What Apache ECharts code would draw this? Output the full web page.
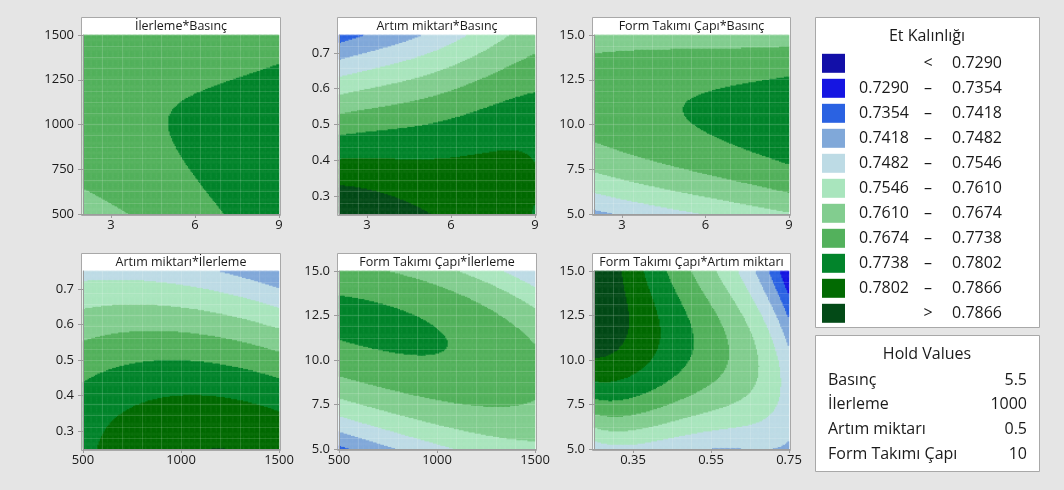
<!DOCTYPE html>
<html>
<head>
<meta charset="utf-8">
<script src="https://cdn.jsdelivr.net/npm/echarts@6/dist/echarts.min.js"></script>
<style>
  html, body { margin: 0; padding: 0; background: #e5e5e5; }
  #chart { width: 1064px; height: 490px; }
</style>
</head>
<body>
<div id="chart"></div>
<script>
// Factors of the Et Kalınlığı (wall thickness) response surface
const factorNames = ['Basınç', 'İlerleme', 'Artım miktarı', 'Form Takımı Çapı'];
const factorLow = [2, 500, 0.25, 5];
const factorHigh = [9, 1500, 0.75, 15];
const holdValues = ['5.5', '1000', '0.5', '10'];

// Contour levels and their fill colours
const levelBreaks = [0.7290, 0.7354, 0.7418, 0.7482, 0.7546, 0.7610, 0.7674, 0.7738, 0.7802, 0.7866];
const levelColors = ['#120fa8', '#1515e2', '#2a62e2', '#80a8d9', '#bddbe5', '#a9e5bd',
                     '#82cd8f', '#53b15c', '#02842b', '#026a02', '#034a17'];

// Axis tick values per factor (left axis / bottom axis)
const factorTicks = [
  [3, 6, 9],
  [500, 750, 1000, 1250, 1500],
  [0.3, 0.4, 0.5, 0.6, 0.7],
  [5, 7.5, 10, 12.5, 15]
];
const factorBottomTicks = [[3, 6, 9], [500, 1000, 1500], [0.35, 0.55, 0.75], [5, 10, 15]];

// Et Kalınlığı readings for each factor pair: [x, y, thickness]
const surfaceBasincIlerleme = [
  [5.1, 1000, 0.7738], [5.5, 1105, 0.7738], [6.0, 1160, 0.7738], [7.35, 1270, 0.7738], [9, 1330, 0.7738],
  [5.3, 885, 0.7738], [5.75, 740, 0.7738], [6.35, 630, 0.7738], [7.0, 520, 0.7738],
  [2, 660, 0.7674], [3.35, 520, 0.7674],
  [2, 1000, 0.7723], [9, 1000, 0.7786], [2, 1500, 0.7715], [9, 1500, 0.7702], [9, 500, 0.7786],
  [2, 500, 0.7647], [5.5, 1500, 0.7695], [5.5, 500, 0.7703], [7.25, 1000, 0.7760], [3.75, 1000, 0.7729],
  [7.25, 1500, 0.7695], [3.75, 1500, 0.7701], [3.75, 500, 0.7677], [7.25, 500, 0.7741]
];
const surfaceBasincArtim = [
  [2, 0.725, 0.7418], [2.8, 0.75, 0.7418],
  [2, 0.678, 0.7482], [3.1, 0.703, 0.7482], [4.3, 0.731, 0.7482], [5.1, 0.75, 0.7482],
  [2, 0.638, 0.7546], [3.7, 0.661, 0.7546], [5.5, 0.699, 0.7546], [6.45, 0.75, 0.7546],
  [2, 0.582, 0.7610], [3.7, 0.615, 0.7610], [5.5, 0.643, 0.7610], [7.25, 0.705, 0.7610], [8.0, 0.75, 0.7610],
  [2, 0.526, 0.7674], [3.7, 0.554, 0.7674], [5.5, 0.591, 0.7674], [7.25, 0.637, 0.7674], [9, 0.689, 0.7674],
  [2, 0.470, 0.7738], [3.7, 0.484, 0.7738], [5.5, 0.512, 0.7738], [7.25, 0.554, 0.7738], [9, 0.594, 0.7738],
  [2, 0.395, 0.7802], [5.5, 0.404, 0.7802], [9, 0.386, 0.7802], [9, 0.278, 0.7802],
  [2, 0.348, 0.7866], [3.75, 0.30, 0.7866], [5.5, 0.25, 0.7866],
  [9, 0.33, 0.7815], [2, 0.25, 0.7925], [2, 0.75, 0.7395], [9, 0.75, 0.7645],
  [7.25, 0.25, 0.7834], [7.25, 0.45, 0.7770], [9, 0.25, 0.7792]
];
const surfaceBasincForm = [
  [4.71, 10.83, 0.7738], [5.92, 11.95, 0.7738], [7.45, 12.31, 0.7738], [9, 12.6, 0.7738],
  [5.92, 9.15, 0.7738], [7.45, 8.33, 0.7738], [9, 7.85, 0.7738],
  [2, 13.8, 0.7674], [5.5, 14.0, 0.7674], [9, 14.26, 0.7674], [2, 9.17, 0.7674], [5.5, 7.69, 0.7674], [9, 6.2, 0.7674],
  [2, 7.31, 0.7610], [5.5, 6.3, 0.7610], [9, 5.1, 0.7610],
  [2, 6.11, 0.7546], [3.63, 5.65, 0.7546], [4.7, 5.3, 0.7546], [5.78, 5.0, 0.7546],
  [2, 5.37, 0.7482], [2.63, 5.0, 0.7482],
  [9, 10.2, 0.7783], [2, 11.5, 0.7719], [2, 15, 0.7648], [9, 15, 0.7655], [9, 5, 0.7604],
  [2, 5, 0.7465], [5.5, 15, 0.7652], [3.5, 5, 0.7510]
];
const surfaceIlerlemeArtim = [
  [1190, 0.743, 0.7482], [1351, 0.725, 0.7482], [1500, 0.697, 0.7482],
  [500, 0.718, 0.7546], [1000, 0.716, 0.7546], [1266, 0.683, 0.7546], [1500, 0.642, 0.7546],
  [500, 0.642, 0.7610], [757, 0.656, 0.7610], [1000, 0.651, 0.7610], [1266, 0.628, 0.7610], [1500, 0.587, 0.7610],
  [500, 0.560, 0.7674], [792, 0.583, 0.7674], [1000, 0.578, 0.7674], [1266, 0.555, 0.7674], [1500, 0.527, 0.7674],
  [500, 0.436, 0.7738], [639, 0.472, 0.7738], [842, 0.495, 0.7738], [1000, 0.5, 0.7738], [1266, 0.482, 0.7738], [1500, 0.454, 0.7738],
  [571, 0.257, 0.7802], [724, 0.353, 0.7802], [876, 0.394, 0.7802], [1000, 0.404, 0.7802], [1181, 0.399, 0.7802], [1500, 0.358, 0.7802],
  [1142, 0.25, 0.7866], [1295, 0.25, 0.7866],
  [1220, 0.25, 0.7872], [500, 0.25, 0.7785], [500, 0.75, 0.7527], [1500, 0.25, 0.7842], [1500, 0.75, 0.7455]
];
const surfaceIlerlemeForm = [
  [500, 13.51, 0.7738], [595, 13.4, 0.7738], [764, 12.9, 0.7738], [932, 12.06, 0.7738], [1084, 11.12, 0.7738],
  [1127, 10.37, 0.7738], [1084, 10.0, 0.7738], [1000, 9.72, 0.7738], [882, 9.81, 0.7738], [713, 10.37, 0.7738],
  [595, 10.93, 0.7738], [500, 11.31, 0.7738],
  [764, 15, 0.7674], [966, 14.3, 0.7674], [1220, 13.18, 0.7674], [1500, 11.12, 0.7674],
  [500, 9.07, 0.7674], [882, 8.32, 0.7674], [1220, 7.57, 0.7674], [1500, 7.01, 0.7674],
  [1084, 15, 0.7610], [1287, 14.1, 0.7610], [1500, 12.52, 0.7610],
  [500, 7.76, 0.7610], [882, 7.01, 0.7610], [1220, 6.17, 0.7610], [1500, 5.7, 0.7610],
  [1372, 15, 0.7546], [1500, 13.93, 0.7546], [500, 6.82, 0.7546], [713, 6.35, 0.7546], [1000, 5.0, 0.7546],
  [500, 5.98, 0.7482], [713, 5.33, 0.7482], [764, 5.0, 0.7482],
  [500, 5.29, 0.7418], [546, 5.0, 0.7418],
  [650, 12.2, 0.7772], [500, 15, 0.7700], [1500, 15, 0.7510], [1500, 9.5, 0.7712], [500, 5, 0.7398], [1500, 5, 0.7590]
];
const surfaceArtimForm = [
  [0.329, 15, 0.7866], [0.367, 15, 0.7802], [0.431, 15, 0.7738], [0.504, 15, 0.7674], [0.564, 15, 0.7610],
  [0.615, 15, 0.7546], [0.666, 15, 0.7482], [0.709, 15, 0.7418], [0.730, 15, 0.7354], [0.7475, 15, 0.7290],
  [0.333, 13.75, 0.7866], [0.337, 12.5, 0.7866], [0.33, 11.5, 0.7866], [0.31, 10.7, 0.7866], [0.25, 10.1, 0.7866],
  [0.40, 13.7, 0.7802], [0.4185, 12.5, 0.7802], [0.427, 11.2, 0.7802], [0.427, 10, 0.7802], [0.40, 9.3, 0.7802],
  [0.34, 9.05, 0.7802], [0.25, 8.97, 0.7802],
  [0.487, 12.5, 0.7738], [0.504, 12.07, 0.7738], [0.504, 10.76, 0.7738], [0.5, 10, 0.7738],
  [0.453, 8.89, 0.7738], [0.367, 8.14, 0.7738], [0.25, 7.95, 0.7738],
  [0.5595, 12.5, 0.7674], [0.589, 10.2, 0.7674], [0.577, 10, 0.7674], [0.538, 8.14, 0.7674], [0.40, 7.3, 0.7674],
  [0.25, 6.82, 0.7674],
  [0.6235, 12.5, 0.7610], [0.658, 11.13, 0.7610], [0.658, 9.26, 0.7610], [0.606, 7.77, 0.7610], [0.45, 6.8, 0.7610],
  [0.25, 6.17, 0.7610],
  [0.683, 12.5, 0.7546], [0.726, 10, 0.7546], [0.726, 8.89, 0.7546], [0.692, 6.27, 0.7546], [0.45, 5.8, 0.7546],
  [0.25, 5.52, 0.7546],
  [0.726, 12.5, 0.7482], [0.75, 10.94, 0.7482], [0.75, 5.7, 0.7482], [0.70, 5, 0.7482],
  [0.75, 14.77, 0.7290], [0.75, 13.37, 0.7354], [0.75, 12.34, 0.7418],
  [0.25, 15, 0.7950], [0.25, 12.5, 0.7915], [0.75, 8.3, 0.7528], [0.75, 5, 0.7463], [0.75, 15, 0.7277],
  [0.25, 5, 0.7505], [0.5, 5, 0.7515]
];

// Panels: [x factor, y factor, readings, polynomial degree of the fitted surface]
const panels = [
  [0, 1, surfaceBasincIlerleme, 3],
  [0, 2, surfaceBasincArtim, 4],
  [0, 3, surfaceBasincForm, 3],
  [1, 2, surfaceIlerlemeArtim, 3],
  [1, 3, surfaceIlerlemeForm, 3],
  [2, 3, surfaceArtimForm, 4]
];

const FONT = '"Open Sans", "Noto Sans", sans-serif';
const GRID_N = 160;
const colLeft = [83, 339, 594];
const colWidth = [196, 196, 195];
const rowTop = [35, 271];
const rowHeight = [179, 178];
const titleTop = [17, 253];

function toCoded(v, f) {
  return (2 * v - factorLow[f] - factorHigh[f]) / (factorHigh[f] - factorLow[f]);
}
function basis(x, y, deg) {
  const b = [];
  for (let d = 0; d <= deg; d++) {
    for (let k = 0; k <= d; k++) b.push(Math.pow(x, d - k) * Math.pow(y, k));
  }
  return b;
}
const isLevel = v => levelBreaks.some(b => Math.abs(b - v) < 1e-7);
// Weighted least-squares polynomial surface through the readings (coded units, small ridge);
// boundary readings count fully, in-between estimates count less
function fitSurface(points, fx, fy, deg) {
  const n = (deg + 1) * (deg + 2) / 2;
  const M = Array.from({ length: n }, () => new Array(n).fill(0));
  const r = new Array(n).fill(0);
  points.forEach(p => {
    const b = basis(toCoded(p[0], fx), toCoded(p[1], fy), deg);
    const t = (p[2] - 0.7738) / 0.0064;
    const w = isLevel(p[2]) ? 1 : 0.35;
    for (let i = 0; i < n; i++) {
      r[i] += w * b[i] * t;
      for (let j = 0; j < n; j++) M[i][j] += w * b[i] * b[j];
    }
  });
  for (let i = 1; i < n; i++) M[i][i] += (i >= 10 ? 0.05 : 0.02);
  for (let c = 0; c < n; c++) {
    let piv = c;
    for (let k = c + 1; k < n; k++) if (Math.abs(M[k][c]) > Math.abs(M[piv][c])) piv = k;
    [M[c], M[piv]] = [M[piv], M[c]];
    [r[c], r[piv]] = [r[piv], r[c]];
    for (let k = c + 1; k < n; k++) {
      const f = M[k][c] / M[c][c];
      for (let j = c; j < n; j++) M[k][j] -= f * M[c][j];
      r[k] -= f * r[c];
    }
  }
  const coef = new Array(n).fill(0);
  for (let i = n - 1; i >= 0; i--) {
    let s = r[i];
    for (let j = i + 1; j < n; j++) s -= M[i][j] * coef[j];
    coef[i] = s / M[i][i];
  }
  return (x, y) => {
    const b = basis(x, y, deg);
    let s = 0;
    for (let i = 0; i < n; i++) s += coef[i] * b[i];
    return 0.7738 + 0.0064 * s;
  };
}

function formatTick(f, v) {
  if (f === 3) return v.toFixed(1);
  return String(v);
}

const grids = [], xAxes = [], yAxes = [], series = [], graphics = [];
const cells = Array.from({ length: GRID_N }, (_, i) => i);
const meshLine = { show: true, lineStyle: { color: 'rgba(255,255,255,0.14)', width: 1 } };

panels.forEach((pn, idx) => {
  const [fx, fy, readings, deg] = pn;
  const col = idx % 3, row = Math.floor(idx / 3);
  const left = colLeft[col], width = colWidth[col], top = rowTop[row], height = rowHeight[row];
  grids.push({ left, top, width, height, outerBoundsMode: 'none' });

  // frame with title bar
  graphics.push({
    type: 'rect', z: -10,
    shape: { x: left - 1.5, y: titleTop[row] + 0.5, width: width + 3, height: top + height - titleTop[row] + 1 },
    style: { fill: '#ffffff', stroke: '#a8a8a8', lineWidth: 1 }
  });
  graphics.push({
    type: 'text', z: 5,
    style: {
      text: factorNames[fy] + '*' + factorNames[fx],
      x: left + width / 2, y: titleTop[row] + 9.5,
      align: 'center', verticalAlign: 'middle',
      font: '12.5px ' + FONT, fill: '#1a1a1a'
    }
  });

  // category axes carry the surface cells; their split lines give the faint mesh
  xAxes.push({ type: 'category', gridIndex: idx, data: cells, z: 5,
               axisLine: { show: false }, axisTick: { show: false }, axisLabel: { show: false },
               splitLine: Object.assign({ interval: 15 }, meshLine) });
  yAxes.push({ type: 'category', gridIndex: idx, data: cells, z: 5,
               axisLine: { show: false }, axisTick: { show: false }, axisLabel: { show: false },
               splitLine: Object.assign({ interval: 9 }, meshLine) });
  // visible value axes
  const xTicks = factorBottomTicks[fx];
  const yTicks = factorTicks[fy];
  xAxes.push({
    type: 'value', gridIndex: idx, min: factorLow[fx], max: factorHigh[fx], position: 'bottom', z: 6,
    axisLine: { show: true, lineStyle: { color: '#9c9c9c' } },
    axisTick: { show: true, length: 4, customValues: xTicks, lineStyle: { color: '#9c9c9c' } },
    axisLabel: { customValues: xTicks, formatter: v => formatTick(fx, v), color: '#1a1a1a',
                 fontSize: 13, fontFamily: FONT, margin: 5 },
    splitLine: { show: false }
  });
  yAxes.push({
    type: 'value', gridIndex: idx, min: factorLow[fy], max: factorHigh[fy], position: 'left', z: 6,
    axisLine: { show: true, lineStyle: { color: '#9c9c9c' } },
    axisTick: { show: true, length: 5, customValues: yTicks, lineStyle: { color: '#9c9c9c' } },
    axisLabel: { customValues: yTicks, formatter: v => formatTick(fy, v), color: '#1a1a1a',
                 fontSize: 13, fontFamily: FONT, margin: 9 },
    splitLine: { show: false }
  });

  const surface = fitSurface(readings, fx, fy, deg);
  const data = [];
  for (let i = 0; i < GRID_N; i++) {
    const cx = -1 + (2 * i + 1) / GRID_N;
    for (let j = 0; j < GRID_N; j++) {
      const cy = -1 + (2 * j + 1) / GRID_N;
      data.push([i, j, surface(cx, cy)]);
    }
  }
  series.push({
    type: 'heatmap', name: factorNames[fy] + '*' + factorNames[fx],
    xAxisIndex: idx * 2, yAxisIndex: idx * 2,
    data, progressive: 0, animation: false, silent: true,
    emphasis: { disabled: true }
  });
});

// Legend box: Et Kalınlığı
const lgX = 815, lgY = 17, lgW = 224, lgH = 310;
graphics.push({ type: 'rect', z: -10, shape: { x: lgX + 0.5, y: lgY + 0.5, width: lgW, height: lgH },
                style: { fill: '#fff', stroke: '#a8a8a8', lineWidth: 1 } });
graphics.push({ type: 'text', style: { text: 'Et Kalınlığı', x: 927, y: 36, align: 'center', verticalAlign: 'middle',
                font: '16px ' + FONT, fill: '#1a1a1a' } });
levelColors.forEach((c, k) => {
  const cy = 63.3 + k * 25;
  graphics.push({ type: 'rect', shape: { x: 822, y: cy - 9.5, width: 23, height: 19 }, style: { fill: c } });
  const txt = (t, x, align) => graphics.push({ type: 'text', style: { text: t, x, y: cy + 0.5, align,
                verticalAlign: 'middle', font: '16px ' + FONT, fill: '#1a1a1a' } });
  if (k === 0) {
    txt('<', 928, 'center');
    txt(levelBreaks[0].toFixed(4), 1002, 'right');
  } else if (k === levelColors.length - 1) {
    txt('>', 928, 'center');
    txt(levelBreaks[levelBreaks.length - 1].toFixed(4), 1002, 'right');
  } else {
    txt(levelBreaks[k - 1].toFixed(4), 909, 'right');
    txt('–', 928, 'center');
    txt(levelBreaks[k].toFixed(4), 1002, 'right');
  }
});

// Hold values box
graphics.push({ type: 'rect', z: -10, shape: { x: lgX + 0.5, y: 335.5, width: lgW, height: 136 },
                style: { fill: '#fff', stroke: '#a8a8a8', lineWidth: 1 } });
graphics.push({ type: 'text', style: { text: 'Hold Values', x: 927, y: 354, align: 'center', verticalAlign: 'middle',
                font: '16px ' + FONT, fill: '#1a1a1a' } });
factorNames.forEach((nm, k) => {
  const cy = 380 + k * 24.7;
  graphics.push({ type: 'text', style: { text: nm, x: 828, y: cy, align: 'left', verticalAlign: 'middle',
                  font: '16px ' + FONT, fill: '#1a1a1a' } });
  graphics.push({ type: 'text', style: { text: holdValues[k], x: 1027, y: cy, align: 'right', verticalAlign: 'middle',
                  font: '16px ' + FONT, fill: '#1a1a1a' } });
});

// piecewise colouring by level
const pieces = levelColors.map((c, k) => {
  if (k === 0) return { lt: levelBreaks[0], color: c };
  if (k === levelColors.length - 1) return { gte: levelBreaks[k - 1], color: c };
  return { gte: levelBreaks[k - 1], lt: levelBreaks[k], color: c };
});

const chart = echarts.init(document.getElementById('chart'), null, { renderer: 'canvas' });
chart.setOption({
  backgroundColor: '#e5e5e5',
  animation: false,
  grid: grids,
  xAxis: xAxes,
  yAxis: yAxes,
  visualMap: { type: 'piecewise', show: false, dimension: 2, seriesIndex: series.map((s, i) => i), pieces },
  series,
  graphic: { elements: graphics }
});
</script>
</body>
</html>
